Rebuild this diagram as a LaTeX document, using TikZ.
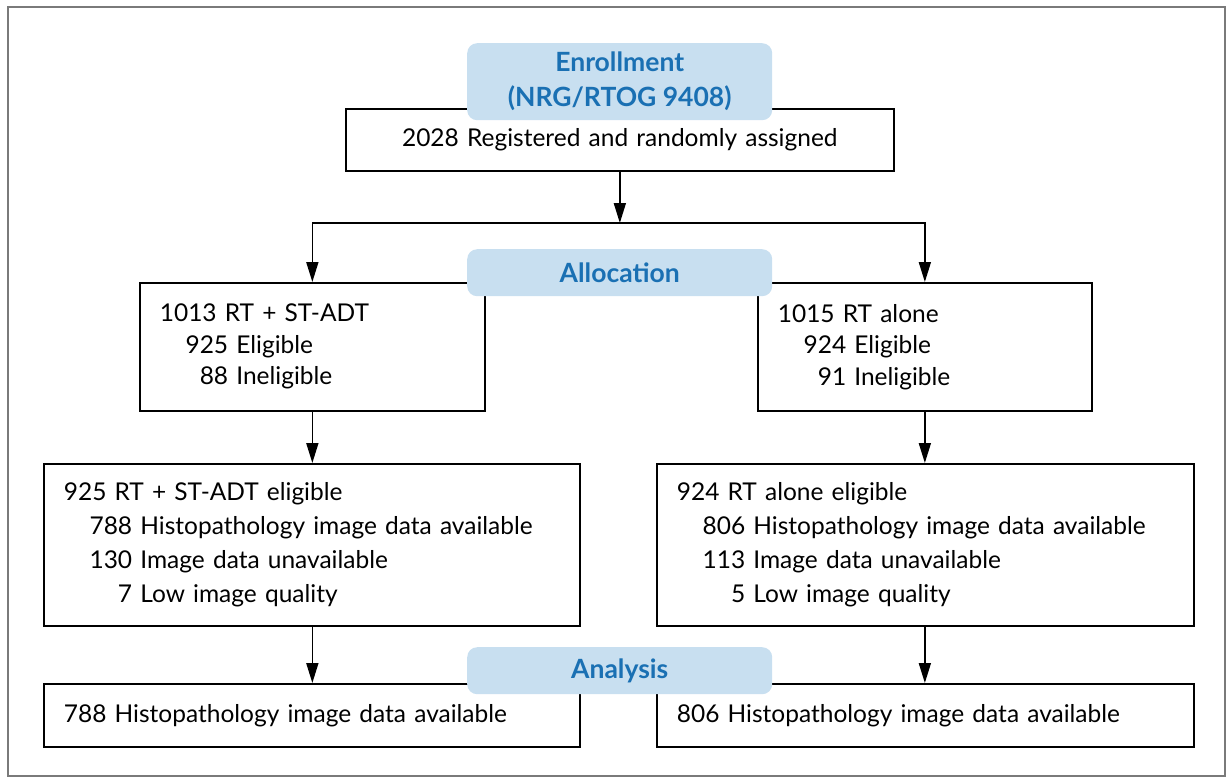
\documentclass[tikz,border=0pt]{standalone}
\usepackage{fontspec}
\setmainfont{Lato}[Numbers=Monospaced]
\usetikzlibrary{arrows.meta}
\definecolor{labfill}{HTML}{C8DFF0}
\definecolor{labtext}{HTML}{1A70B3}
\definecolor{framegray}{HTML}{7A7A7A}
\newcommand\ind{\hspace*{1.05em}}
\tikzset{
  flowbox/.style={draw=black, line width=1.7pt, fill=white, inner xsep=20pt,
    inner ysep=0pt, align=left, anchor=north west,
    font=\fontsize{24.5}{34}\selectfont},
  stagelabel/.style={fill=labfill, rounded corners=10pt, text=labtext,
    font=\bfseries\fontsize{26.5}{35}\selectfont, align=center,
    anchor=north west, inner sep=0pt, minimum width=305pt},
  flowarrow/.style={line width=1.7pt, -{Triangle[length=20pt,width=12pt]}},
}
\begin{document}
\begin{tikzpicture}[x=1pt,y=-1pt]
\useasboundingbox (0,0) rectangle (1230,777);
% outer frame
\draw[framegray, line width=1.8pt] (8,7) rectangle (1225,776);

% boxes
\node[flowbox, align=center, text width=508pt, minimum height=62pt] (reg) at (345,108)
  {2028 Registered and randomly assigned};
\node[flowbox, text width=305pt, minimum height=128pt,
      font=\fontsize{24.5}{31.5}\selectfont] (a1) at (139,282)
  {1013 RT + ST-ADT\\ \ind 925 Eligible\\ \ind\phantom{9}88 Ineligible};
\node[flowbox, text width=294pt, minimum height=128pt,
      font=\fontsize{24.5}{31.5}\selectfont] (a2) at (757,282)
  {1015 RT alone\\ \ind 924 Eligible\\ \ind\phantom{9}91 Ineligible};
\node[flowbox, text width=496pt, minimum height=162pt] (e1) at (43,463)
  {925 RT + ST-ADT eligible\\ \ind 788 Histopathology image data available\\
   \ind 130 Image data unavailable\\ \ind\phantom{13}7 Low image quality};
\node[flowbox, text width=497pt, minimum height=162pt] (e2) at (656,463)
  {924 RT alone eligible\\ \ind 806 Histopathology image data available\\
   \ind 113 Image data unavailable\\ \ind\phantom{11}5 Low image quality};
\node[flowbox, text width=496pt, minimum height=63pt] (f1) at (43,683)
  {788 Histopathology image data available};
\node[flowbox, text width=497pt, minimum height=63pt] (f2) at (656,683)
  {806 Histopathology image data available};

% connectors
\coordinate (split) at (reg.south |- 0,223);
\draw[flowarrow] (reg.south) -- (split);
\draw[flowarrow] (split) -| (a1.north);
\draw[flowarrow] (split) -| (a2.north);
\draw[flowarrow] (a1.south) -- (e1.north -| a1.south);
\draw[flowarrow] (a2.south) -- (e2.north -| a2.south);
\draw[flowarrow] (e1.south -| a1.south) -- (f1.north -| a1.south);
\draw[flowarrow] (e2.south -| a2.south) -- (f2.north -| a2.south);

% stage labels
\node[stagelabel, minimum height=77pt] (enroll) at (467,43) {Enrollment\\(NRG/RTOG 9408)};
\node[stagelabel, minimum height=47pt] (alloc) at (467,249) {Allocation};
\node[stagelabel, minimum height=47pt] (anal) at (467,647) {Analysis};
\end{tikzpicture}
\end{document}
